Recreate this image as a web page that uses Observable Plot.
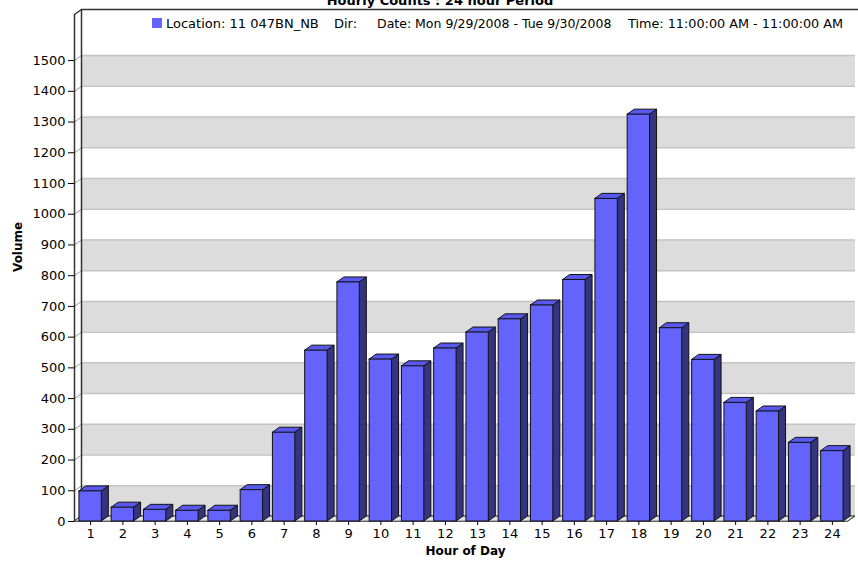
<!DOCTYPE html>
<html><head><meta charset="utf-8">
<script src="https://cdn.jsdelivr.net/npm/d3@7"></script>
<script src="https://cdn.jsdelivr.net/npm/@observablehq/plot@0.6"></script>
<style>
body{margin:0;background:#fff;}
#wrap{position:relative;width:858px;height:561px;overflow:hidden;font-family:"DejaVu Sans",sans-serif;color:#000;}
#chart{position:absolute;left:0;top:0;}
#title{position:absolute;left:0;width:880px;text-align:center;top:-6px;font-weight:bold;font-size:13px;line-height:13px;white-space:nowrap;}
.lg{position:absolute;top:17px;font-size:13px;line-height:13px;white-space:nowrap;}
#sw{position:absolute;left:152px;top:18px;width:10px;height:10px;background:#6464fc;}
</style></head><body>
<div id="wrap">
  <div id="chart"></div>
  <div id="title">Hourly Counts : 24 hour Period</div>
  <div id="sw"></div>
  <div class="lg" style="left:166px">Location: 11 047BN_NB</div>
  <div class="lg" style="left:334px">Dir:</div>
  <div class="lg" style="left:377px;font-size:12.5px">Date: Mon 9/29/2008 - Tue 9/30/2008</div>
  <div class="lg" style="left:628px;font-size:12.8px">Time: 11:00:00 AM - 11:00:00 AM</div>
</div>
<script>
const hours = [1,2,3,4,5,6,7,8,9,10,11,12,13,14,15,16,17,18,19,20,21,22,23,24];
const volume = [98,45,38,35,35,102,289,556,778,527,505,563,615,658,703,786,1050,1324,629,526,386,358,256,229];
const yTicks = [0,100,200,300,400,500,600,700,800,900,1000,1100,1200,1300,1400,1500];
const xTickLabels = ["1","2","3","4","5","6","7","8","9","10","11","12","13","14","15","16","17","18","19","20","21","22","23","24"];

const W = 858, H = 561, mL = 74, mR = 10, mT = 14, mB = 40;
const X0 = 0.5, X1 = 24.5, YMAX = 1650;
const pxX = (W - mL - mR) / (X1 - X0);
const pxY = (H - mT - mB) / YMAX;
const DX = 7 / pxX, DY = 5 / pxY, HW = 11.2 / pxX;
const XEND = X0 + (W - mL) / pxX;

const bars = hours.map((h, i) => ({h, v: volume[i]}));
const side = bars.flatMap(d => [
  {h: d.h, x: d.h + HW, y1: 0, y2: d.v},
  {h: d.h, x: d.h + HW + DX, y1: DY, y2: d.v + DY}
]);
const topFace = bars.flatMap(d => [
  {h: d.h, y: d.v, x1: d.h - HW, x2: d.h + HW},
  {h: d.h, y: d.v + DY, x1: d.h - HW + DX, x2: d.h + HW + DX}
]);
const bands = yTicks.filter(t => t % 200 === 0).map(t => ({y1: t + DY, y2: t + 100 + DY}));
const floor = [{y: 0, x1: X0, x2: X1}, {y: DY, x1: X0 + DX, x2: X1 + DX}];

const plot = Plot.plot({
  width: W, height: H,
  marginLeft: mL, marginRight: mR, marginTop: mT, marginBottom: mB,
  style: {fontFamily: "DejaVu Sans", fontSize: "13px", color: "#000", background: "transparent"},
  x: {domain: [X0, X1]},
  y: {domain: [0, YMAX]},
  marks: [
    Plot.rect(bands, {x1: () => X0 + DX, x2: () => X1 + DX, y1: "y1", y2: "y2", fill: "#dcdcdc"}),
    Plot.ruleY(yTicks, {y: d => d + DY, x1: () => X0 + DX, x2: () => X1 + DX, stroke: "#c4c4c4", strokeWidth: 1.5}),
    Plot.link(yTicks, {x1: () => X0, y1: d => d, x2: () => X0 + DX, y2: d => d + DY, stroke: "#999"}),
    Plot.ruleX([X0 + DX], {y1: DY, y2: YMAX + DY, stroke: "#333", strokeWidth: 1.5}),
    Plot.ruleY([YMAX + DY], {x1: X0 + DX, x2: XEND, stroke: "#333", strokeWidth: 1.5}),
    Plot.link([0], {x1: () => X0, y1: () => YMAX, x2: () => X0 + DX, y2: () => YMAX + DY, stroke: "#333", strokeWidth: 1.5}),
    Plot.ruleX([X0], {y1: 0, y2: YMAX, stroke: "#333", strokeWidth: 1.5}),
    Plot.areaX(floor, {y: "y", x1: "x1", x2: "x2", fill: "#e2e2e2", stroke: "#222"}),
    Plot.areaY(side, {x: "x", y1: "y1", y2: "y2", z: "h", fill: "#34347f", stroke: "#111"}),
    Plot.areaX(topFace, {y: "y", x1: "x1", x2: "x2", z: "h", fill: "#5858ee", stroke: "#111"}),
    Plot.rect(bars, {x1: d => d.h - HW, x2: d => d.h + HW, y1: 0, y2: "v", fill: "#6464fc", stroke: "#111"}),
    Plot.axisY({ticks: yTicks, tickSize: 6, tickPadding: 3, label: null, tickFormat: d => String(d)}),
    Plot.axisX({ticks: hours, tickSize: 4, tickPadding: 3, label: null, tickFormat: d => xTickLabels[d - 1]}),
    Plot.text(["Volume"], {frameAnchor: "left", dx: -56, dy: 4, rotate: -90, fontWeight: "bold", fontSize: 12}),
    Plot.text(["Hour of Day"], {frameAnchor: "bottom", dx: 4, dy: 33, fontWeight: "bold", fontSize: 12})
  ]
});
document.getElementById("chart").appendChild(plot);
</script>
</body></html>
